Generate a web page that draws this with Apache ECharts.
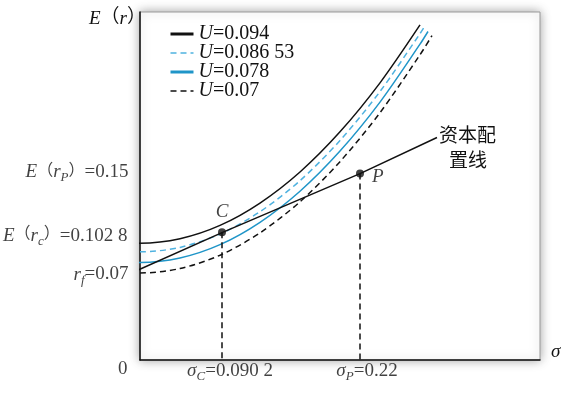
<!DOCTYPE html>
<html>
<head>
<meta charset="utf-8">
<script src="https://cdn.jsdelivr.net/npm/echarts@6/dist/echarts.min.js"></script>
<style>
  html, body { margin: 0; padding: 0; background: #fff; }
  #chart { width: 566px; height: 397px; }
</style>
</head>
<body>
<div id="chart"></div>
<script>
// 无差异曲线 (sigma, E(r))
const curveNames = ['U=0.094', 'U=0.086 53', 'U=0.078', 'U=0.07'];
const curveU094 = [[-0.01, 0.0942], [0, 0.094], [0.04, 0.0976], [0.08, 0.1083], [0.12, 0.1263], [0.16, 0.1513], [0.20, 0.1836], [0.24, 0.2230], [0.28, 0.2696]];
const curveU0865 = [[-0.01, 0.0872], [0, 0.087], [0.04, 0.0906], [0.08, 0.1013], [0.12, 0.1193], [0.16, 0.1443], [0.20, 0.1766], [0.24, 0.2160], [0.28, 0.2626], [0.284, 0.2677]];
const curveU078 = [[-0.01, 0.0787], [0, 0.0785], [0.04, 0.0821], [0.08, 0.0928], [0.12, 0.1108], [0.16, 0.1358], [0.20, 0.1681], [0.24, 0.2075], [0.28, 0.2541], [0.288, 0.2643]];
const curveU070 = [[-0.01, 0.0702], [0, 0.07], [0.04, 0.0736], [0.08, 0.0843], [0.12, 0.1023], [0.16, 0.1273], [0.20, 0.1596], [0.24, 0.1990], [0.28, 0.2456], [0.292, 0.2610]];

// 资本配置线
const calLine = [[-0.01, 0.0695], [0.082, 0.1025], [0.22, 0.15], [0.297, 0.179]];
const pointC = [0.082, 0.1028];
const pointP = [0.22, 0.15];
const rf = 0.07;
const leftX = -0.01;

const serif = '"Liberation Serif", "Noto Sans CJK SC", serif';
const cjk = '"Noto Sans CJK SC", sans-serif';
const ink = '#111';

// 下标用 padding 下移
const rich = {
    n: { fontSize: 19, lineHeight: 22, verticalAlign: 'top', fontFamily: serif, color: ink },
    p: { fontSize: 16, lineHeight: 22, verticalAlign: 'top', fontFamily: serif, color: ink },
    i: { fontSize: 19, lineHeight: 22, verticalAlign: 'top', fontFamily: serif, fontStyle: 'italic', color: ink },
    s: { fontSize: 13, lineHeight: 12, verticalAlign: 'top', padding: [9, 0, 0, 0], fontFamily: serif, fontStyle: 'italic', color: ink }
};

const labelTexts = [
    { value: [leftX, pointP[1]], text: '{i|E}{p|（}{i|r}{s|P}{p|）}{n|=0.15}', pos: 'left', dist: 1, off: [0, 0] },
    { value: [leftX, pointC[1]], text: '{i|E}{p|（}{i|r}{s|c}{p|）}{n|=0.102 8}', pos: 'left', dist: 2, off: [0, 5] },
    { value: [leftX, rf], text: '{i|r}{s|f}{n|=0.07}', pos: 'left', dist: 1, off: [0, 3] },
    { value: [0, 0], text: '{n|0}', pos: 'left', dist: 12, off: [0, 11] },
    { value: [pointC[0], 0], text: '{i|σ}{s|C}{n|=0.090 2}', pos: 'bottom', dist: 1, off: [8, 0] },
    { value: [pointP[0], 0], text: '{i|σ}{s|P}{n|=0.22}', pos: 'bottom', dist: 1, off: [7, 0] }
];

const chart = echarts.init(document.getElementById('chart'), null, { renderer: 'canvas' });

const curve = (name, data, color, type, width) => ({
    name: name,
    type: 'line',
    data: data,
    smooth: 0.3,
    symbol: 'none',
    clip: false,
    lineStyle: { color: color, type: type, width: width },
    itemStyle: { color: color },
    z: 3
});

const dash = [6, 4];
const noSymbol = { opacity: 0 };

chart.setOption({
    animation: false,
    backgroundColor: '#fff',
    grid: {
        left: 140, top: 12, width: 400, height: 348,
        show: true, backgroundColor: '#fff',
        borderColor: '#999', borderWidth: 1,
        shadowBlur: 10, shadowColor: 'rgba(0,0,0,0.35)'
    },
    legend: {
        orient: 'vertical',
        left: 164, top: 19,
        itemWidth: 23, itemHeight: 12, itemGap: -1,
        data: [
            { name: curveNames[0], lineStyle: { width: 3 }, itemStyle: noSymbol },
            { name: curveNames[1], lineStyle: { width: 1.5 }, itemStyle: noSymbol },
            { name: curveNames[2], lineStyle: { width: 3 }, itemStyle: noSymbol },
            { name: curveNames[3], lineStyle: { width: 1.5 }, itemStyle: noSymbol }
        ],
        formatter: name => '{i|U}{n|=' + name.split('=')[1] + '}',
        textStyle: {
            fontSize: 20, lineHeight: 18, fontFamily: serif, color: ink,
            rich: {
                i: { fontSize: 20, lineHeight: 18, fontStyle: 'italic', fontFamily: serif, color: ink },
                n: { fontSize: 20, lineHeight: 18, fontFamily: serif, color: ink }
            }
        }
    },
    xAxis: {
        type: 'value', min: 0, max: 0.4,
        axisLine: { lineStyle: { color: ink, width: 1.5 } },
        axisTick: { show: false }, axisLabel: { show: false }, splitLine: { show: false },
        name: 'σ', nameLocation: 'end', nameGap: 11,
        nameTextStyle: { fontSize: 19, fontStyle: 'italic', fontFamily: serif, color: ink, verticalAlign: 'bottom', padding: [0, 0, -2, 0] }
    },
    yAxis: {
        type: 'value', min: 0, max: 0.28,
        axisLine: { lineStyle: { color: ink, width: 1.5 } },
        axisTick: { show: false }, axisLabel: { show: false }, splitLine: { show: false },
        name: '{i|E}{n|（}{i|r}{n|）}', nameLocation: 'end', nameGap: -8,
        nameTextStyle: { align: 'right', verticalAlign: 'middle', padding: [0, -6, 0, 0], rich: rich }
    },
    series: [
        curve(curveNames[0], curveU094, '#111', 'solid', 1.5),
        curve(curveNames[1], curveU0865, '#4fb2e0', dash, 1.5),
        curve(curveNames[2], curveU078, '#1f95c8', 'solid', 1.5),
        curve(curveNames[3], curveU070, '#111', dash, 1.5),
        {
            name: 'CAL',
            type: 'line',
            data: calLine,
            symbol: 'none',
            clip: false,
            lineStyle: { color: ink, width: 1.5 },
            z: 4,
            endLabel: {
                show: true,
                distance: 2,
                offset: [0, 10],
                formatter: '{a|资本配}\n{b|置线}',
                rich: {
                    a: { fontSize: 19, lineHeight: 25, fontFamily: cjk, color: ink },
                    b: { fontSize: 19, lineHeight: 25, fontFamily: cjk, color: ink, padding: [0, 0, 0, 10] }
                }
            }
        },
        {
            name: 'points',
            type: 'scatter',
            clip: false,
            symbol: 'circle',
            symbolSize: 8,
            itemStyle: { color: ink },
            z: 5,
            data: [
                { value: pointC, label: { show: true, position: 'top', distance: 4, formatter: '{i|C}', rich: rich } },
                { value: pointP, label: { show: true, position: 'right', distance: 8, offset: [0, 5], formatter: '{i|P}', rich: rich } }
            ],
            markLine: {
                silent: true,
                symbol: ['none', 'none'],
                label: { show: false },
                lineStyle: { color: ink, type: dash, width: 1.5 },
                data: [
                    [{ coord: [leftX, pointP[1]] }, { coord: pointP }],
                    [{ coord: [leftX, pointC[1]] }, { coord: pointC }],
                    [{ coord: pointC }, { coord: [pointC[0], 0] }],
                    [{ coord: pointP }, { coord: [pointP[0], 0] }]
                ]
            }
        },
        {
            name: 'labels',
            type: 'scatter',
            clip: false,
            symbolSize: 1,
            itemStyle: { color: 'rgba(0,0,0,0)' },
            z: 6,
            data: labelTexts.map(d => ({
                value: d.value,
                label: { show: true, position: d.pos, distance: d.dist, offset: d.off, formatter: d.text, rich: rich }
            }))
        }
    ]
});
</script>
</body>
</html>
